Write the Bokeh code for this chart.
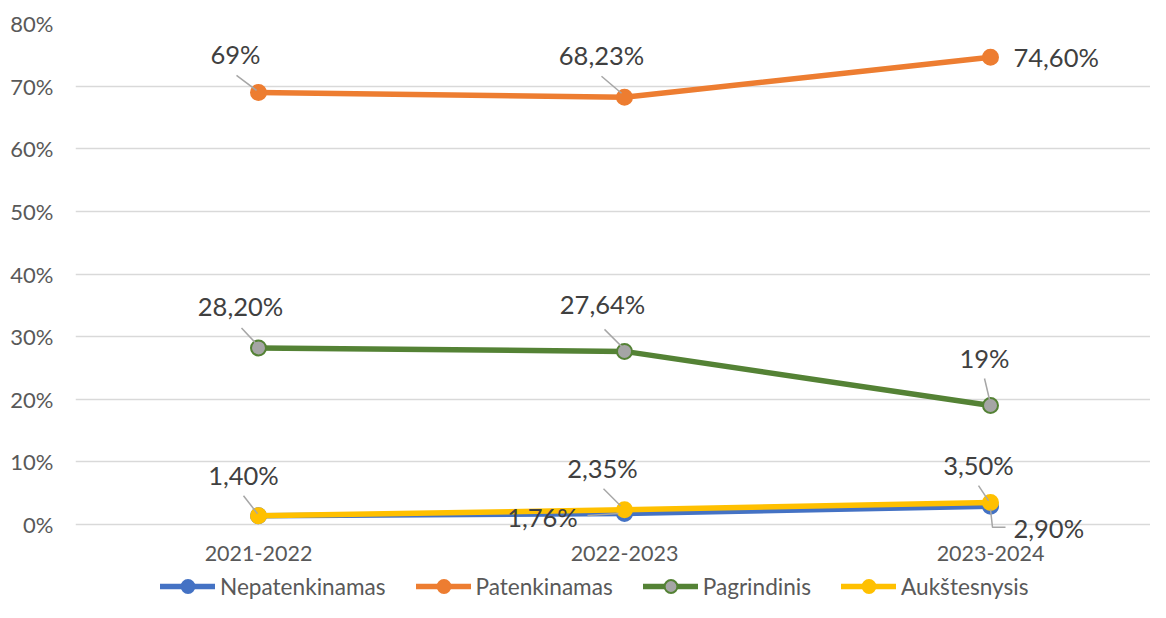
from bokeh.plotting import figure
from bokeh.models import (ColumnDataSource, Legend, LegendItem, FixedTicker,
                          PrintfTickFormatter, Range1d)
from bokeh.embed import file_html
from bokeh.resources import INLINE
from bokeh.core.properties import value

# ---------------- data ----------------
years = ["2021-2022", "2022-2023", "2023-2024"]
series_names = ["Nepatenkinamas", "Patenkinamas", "Pagrindinis", "Aukštesnysis"]
nepatenkinamas = [1.40, 1.76, 2.90]
patenkinamas = [69.0, 68.23, 74.60]
pagrindinis = [28.20, 27.64, 19.0]
aukstesnysis = [1.40, 2.35, 3.50]
nepatenkinamas_labels = ["", "1,76%", "2,90%"]
patenkinamas_labels = ["69%", "68,23%", "74,60%"]
pagrindinis_labels = ["28,20%", "27,64%", "19%"]
aukstesnysis_labels = ["1,40%", "2,35%", "3,50%"]
y_ticks = [0, 10, 20, 30, 40, 50, 60, 70, 80]

# ---------------- layout / style ----------------
W, H = 1150, 602
B_LEFT, B_TOP, B_BOTTOM, B_RIGHT = 75, 23, 0, 0
FRAME_W = W - B_LEFT - B_RIGHT
FRAME_H = H - B_TOP - B_BOTTOM
PX_PER_CAT = 366.0
PX_PER_PCT = 501.0 / 80.0
X0 = -0.5
x_range = Range1d(X0, X0 + FRAME_W / PX_PER_CAT)
y_range = Range1d(80 - FRAME_H / PX_PER_PCT, 80)
SX = PX_PER_CAT
SY = PX_PER_PCT

FONT = "Lato"
colors = {"Nepatenkinamas": "#4472C4", "Patenkinamas": "#ED7D31",
          "Pagrindinis": "#548235", "Aukštesnysis": "#FFC000"}
marker_fill = {"Nepatenkinamas": "#4472C4", "Patenkinamas": "#ED7D31",
               "Pagrindinis": "#A5A5A5", "Aukštesnysis": "#FFC000"}

# label placement (pixel offsets from the point: dx, dy(screen, down +), align)
label_offsets = {
    "Nepatenkinamas": [(0, 0, "center"), (-82, 4, "center"), (23, 22, "left")],
    "Patenkinamas": [(-23, -38, "center"), (-23, -42, "center"), (23, 0, "left")],
    "Pagrindinis": [(-18, -42, "center"), (-22, -47, "center"), (-6, -48, "center")],
    "Aukštesnysis": [(-15, -41, "center"), (-22, -42, "center"), (-12, -38, "center")],
}
# leader lines as pixel paths relative to the point
leader_paths = {
    "Nepatenkinamas": [None, [(-37, 2), (-6, 0)], [(0, 3), (2, 21), (15, 21)]],
    "Patenkinamas": [[(-22, -17), (-2, -2)], [(-23, -21), (-3, -4)], None],
    "Pagrindinis": [[(-17, -20), (-3, -5)], [(-20, -22), (-2, -4)], [(-6, -27), (-1, -6)]],
    "Aukštesnysis": [[(-15, -20), (-1, -2)], [(-21, -21), (-4, -4)], [(-12, -17), (-2, -2)]],
}

values = {"Nepatenkinamas": nepatenkinamas, "Patenkinamas": patenkinamas,
          "Pagrindinis": pagrindinis, "Aukštesnysis": aukstesnysis}
labels = {"Nepatenkinamas": nepatenkinamas_labels, "Patenkinamas": patenkinamas_labels,
          "Pagrindinis": pagrindinis_labels, "Aukštesnysis": aukstesnysis_labels}

p = figure(width=W, height=H, x_range=x_range, y_range=y_range,
           output_backend="svg", toolbar_location=None,
           min_border_left=B_LEFT, min_border_right=B_RIGHT,
           min_border_top=B_TOP, min_border_bottom=B_BOTTOM)
p.outline_line_color = None
p.background_fill_color = "white"
p.border_fill_color = "white"

# y axis
p.xaxis.visible = False
p.yaxis.ticker = FixedTicker(ticks=y_ticks)
p.yaxis.formatter = PrintfTickFormatter(format="%d%%")
ax = p.yaxis[0]
ax.axis_line_color = None
ax.major_tick_line_color = None
ax.minor_tick_line_color = None
ax.major_label_text_font = FONT
ax.major_label_text_font_size = "22px"
ax.major_label_text_color = "#595959"
ax.major_label_standoff = 16
p.xgrid.grid_line_color = None
p.ygrid.ticker = FixedTicker(ticks=y_ticks)
p.ygrid.grid_line_color = "#D9D9D9"
p.ygrid.grid_line_width = 1.3

xs = list(range(len(years)))

# category labels (placed at the baseline value through the data scales)
cat_src = ColumnDataSource(dict(x=xs, y=[0] * len(years), t=years))
p.text("x", "y", text="t", source=cat_src, y_offset=29,
       text_align="center", text_baseline="middle",
       text_font=value(FONT), text_font_size="21.5px", text_color="#595959")

legend_items = []
for name in series_names:
    src = ColumnDataSource(dict(x=xs, y=values[name]))
    ln = p.line("x", "y", source=src, line_color=colors[name], line_width=5.5,
                line_join="round", line_cap="round")
    mk = p.scatter("x", "y", source=src, marker="circle", size=15,
                   fill_color=marker_fill[name], line_color=colors[name],
                   line_width=2)
    legend_items.append(LegendItem(label=name, renderers=[ln, mk]))

# leader lines
lx, ly = [], []
for name in series_names:
    for i, path in enumerate(leader_paths[name]):
        if path is None:
            continue
        lx.append([xs[i] + dx / SX for dx, dy in path])
        ly.append([values[name][i] - dy / SY for dx, dy in path])
p.multi_line(lx, ly, line_color="#A6A6A6", line_width=1.5)

# data labels
for name in series_names:
    for align in ("center", "left"):
        tx, ty, tt, ox, oy = [], [], [], [], []
        for i in xs:
            dx, dy, al = label_offsets[name][i]
            if al != align or not labels[name][i]:
                continue
            tx.append(xs[i]); ty.append(values[name][i]); tt.append(labels[name][i])
            ox.append(dx); oy.append(dy)
        if not tx:
            continue
        src = ColumnDataSource(dict(x=tx, y=ty, t=tt, ox=ox, oy=oy))
        p.text("x", "y", text="t", source=src, x_offset="ox", y_offset="oy",
               text_align=align, text_baseline="middle",
               text_font=value(FONT), text_font_size="25.5px", text_color="#404040")

legend = Legend(items=legend_items, orientation="horizontal", location=(85, 0))
legend.label_text_font = FONT
legend.label_text_font_size = "22.6px"
legend.label_text_color = "#595959"
legend.glyph_width = 55
legend.glyph_height = 32
legend.label_height = 32
legend.label_standoff = 5
legend.spacing = 30
legend.padding = 0
legend.margin = 0
legend.border_line_color = None
legend.background_fill_alpha = 0
p.add_layout(legend, "center")

open("out.html", "w").write(file_html(p, INLINE))
